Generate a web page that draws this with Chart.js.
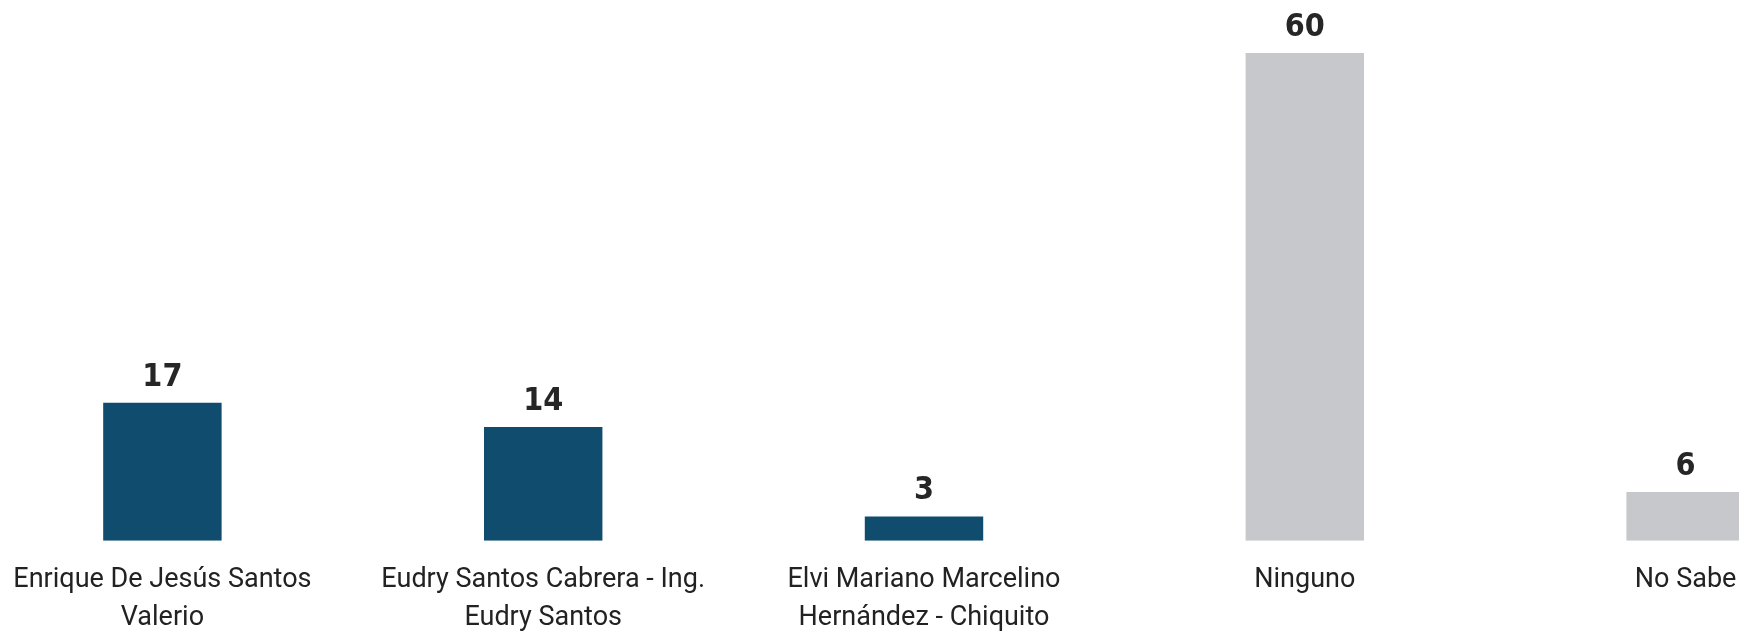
<!DOCTYPE html>
<html>
<head>
<meta charset="utf-8">
<script src="https://cdn.jsdelivr.net/npm/chart.js@4.4.0/dist/chart.umd.min.js"></script>
<style>
  html, body { margin: 0; padding: 0; background: #fff; overflow: hidden; }
  #wrap { position: absolute; left: -28px; top: 0; width: 1904px; height: 657px; }
</style>
</head>
<body>
<div id="wrap"><canvas id="chart"></canvas></div>
<script>
// categorias y valores (%)
const categories = [
  ["Enrique De Jesús Santos", "Valerio"],
  ["Eudry Santos Cabrera - Ing.", "Eudry Santos"],
  ["Elvi Mariano Marcelino", "Hernández - Chiquito"],
  "Ninguno",
  "No Sabe",
];
const values = [17, 14, 3, 60, 6];
const barColors = ["#0f4c6d", "#0f4c6d", "#0f4c6d", "#c7c8cc", "#c7c8cc"];

// etiquetas de valor encima de cada barra
const valueLabels = {
  id: "valueLabels",
  afterDatasetsDraw(chart) {
    const ctx = chart.ctx;
    const meta = chart.getDatasetMeta(0);
    ctx.save();
    ctx.font = "bold 32px 'Liberation Sans Narrow', 'DejaVu Sans Condensed', sans-serif";
    ctx.fillStyle = "#262626";
    ctx.textAlign = "center";
    ctx.textBaseline = "alphabetic";
    meta.data.forEach((bar, i) => {
      ctx.fillText(values[i], bar.x, bar.y - 17);
    });
    ctx.restore();
  },
};

new Chart(document.getElementById("chart"), {
  type: "bar",
  data: {
    labels: categories,
    datasets: [
      {
        data: values,
        backgroundColor: barColors,
        categoryPercentage: 1,
        barPercentage: 0.311,
      },
    ],
  },
  options: {
    responsive: true,
    maintainAspectRatio: false,
    animation: false,
    layout: { padding: { top: 53, left: 0, right: 0, bottom: 0 } },
    scales: {
      x: {
        grid: { display: false, drawTicks: false },
        border: { display: false },
        ticks: {
          color: "#222",
          padding: 20,
          maxRotation: 0,
          autoSkip: false,
          font: { family: "Roboto", size: 27, lineHeight: 1.41 },
        },
      },
      y: {
        display: false,
        min: 0,
        max: 60,
      },
    },
    plugins: {
      legend: { display: false },
      tooltip: { enabled: false },
    },
  },
  plugins: [valueLabels],
});
</script>
</body>
</html>
